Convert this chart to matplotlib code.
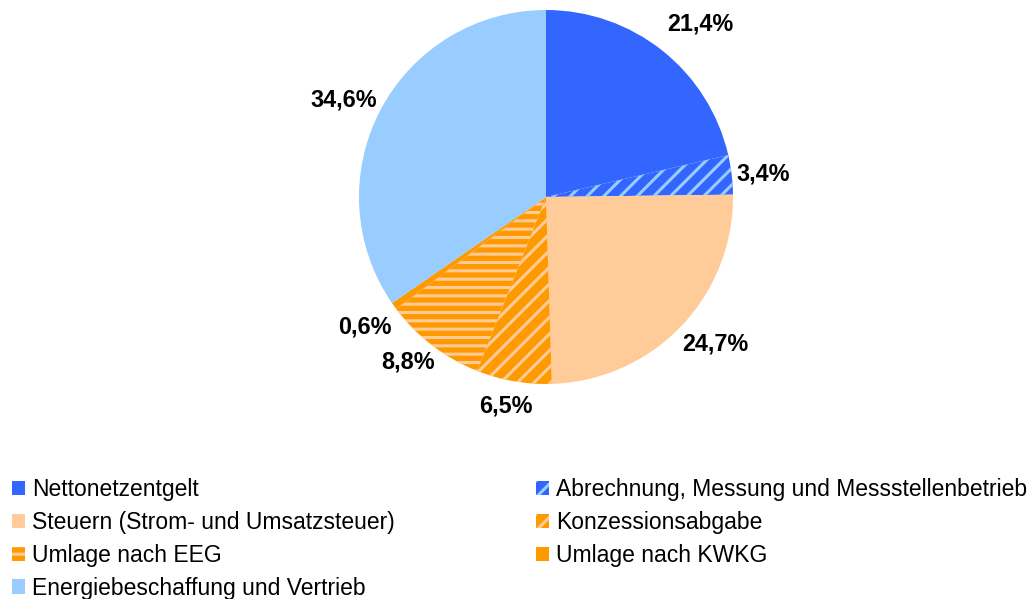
import matplotlib.pyplot as plt
import matplotlib.patches as mpatches
import numpy as np

plt.rcParams["font.family"] = ["Liberation Sans", "DejaVu Sans"]
plt.rcParams["hatch.linewidth"] = 2.2

# Data
categories = [
    "Nettonetzentgelt",
    "Abrechnung, Messung und Messstellenbetrieb",
    "Steuern (Strom- und Umsatzsteuer)",
    "Konzessionsabgabe",
    "Umlage nach EEG",
    "Umlage nach KWKG",
    "Energiebeschaffung und Vertrieb",
]
shares = [21.4, 3.4, 24.7, 6.5, 8.8, 0.6, 34.6]

# Styles
face_colors = ["#3366FF", "#3366FF", "#FFCC99", "#FF9900", "#FF9900", "#FF9900", "#99CCFF"]
hatch_colors = ["#3366FF", "#99CCFF", "#FFCC99", "#FFCC99", "#FFCC99", "#FF9900", "#99CCFF"]
hatches = [None, "//", None, "//", "--", None, None]
label_dist = [1.24, 1.17, 1.2, 1.14, 1.15, 1.19, 1.2]
label_turn = [-3.2, -0.8, 2.7, -0.9, -2.3, 0.0, 2.2]

fig = plt.figure(figsize=(10.36, 5.99), dpi=100)
cx, cy, r = 546, 197, 187
W, H = 1036, 599
ax = fig.add_axes([(cx - r) / W, (H - cy - r) / H, 2 * r / W, 2 * r / H])

wedges, _ = ax.pie(
    shares,
    colors=face_colors,
    startangle=90,
    counterclock=False,
    radius=1.0,
    wedgeprops=dict(linewidth=0),
)
for w, hc, h in zip(wedges, hatch_colors, hatches):
    w.set_edgecolor(hc)
    w.set_linewidth(0)
    if h:
        w.set_hatch(h)

for w, val, d, t in zip(wedges, shares, label_dist, label_turn):
    ang = np.deg2rad((w.theta1 + w.theta2) / 2 + t)
    ax.text(d * np.cos(ang), d * np.sin(ang), f"{val:.1f}%".replace(".", ","),
            ha="center", va="center", fontsize=16.8, fontweight="bold")

ax.set_xlim(-1, 1)
ax.set_ylim(-1, 1)
ax.axis("off")


def make_handle(i):
    return mpatches.Patch(facecolor=face_colors[i], edgecolor=hatch_colors[i],
                          hatch=hatches[i], linewidth=0)


left_idx = [0, 2, 4, 6]
right_idx = [1, 3, 5]
common = dict(frameon=False, fontsize=16.5, handlelength=0.57, handleheight=0.57,
              handletextpad=0.3, labelspacing=0.43, borderpad=0, borderaxespad=0,
              loc="upper left")
leg1 = fig.legend([make_handle(i) for i in left_idx], [categories[i] for i in left_idx],
                  bbox_to_anchor=(12 / W, (H - 478) / H), **common)
leg2 = fig.legend([make_handle(i) for i in right_idx], [categories[i] for i in right_idx],
                  bbox_to_anchor=(536 / W, (H - 478) / H), **common)

fig.savefig("out.png", dpi=100)
